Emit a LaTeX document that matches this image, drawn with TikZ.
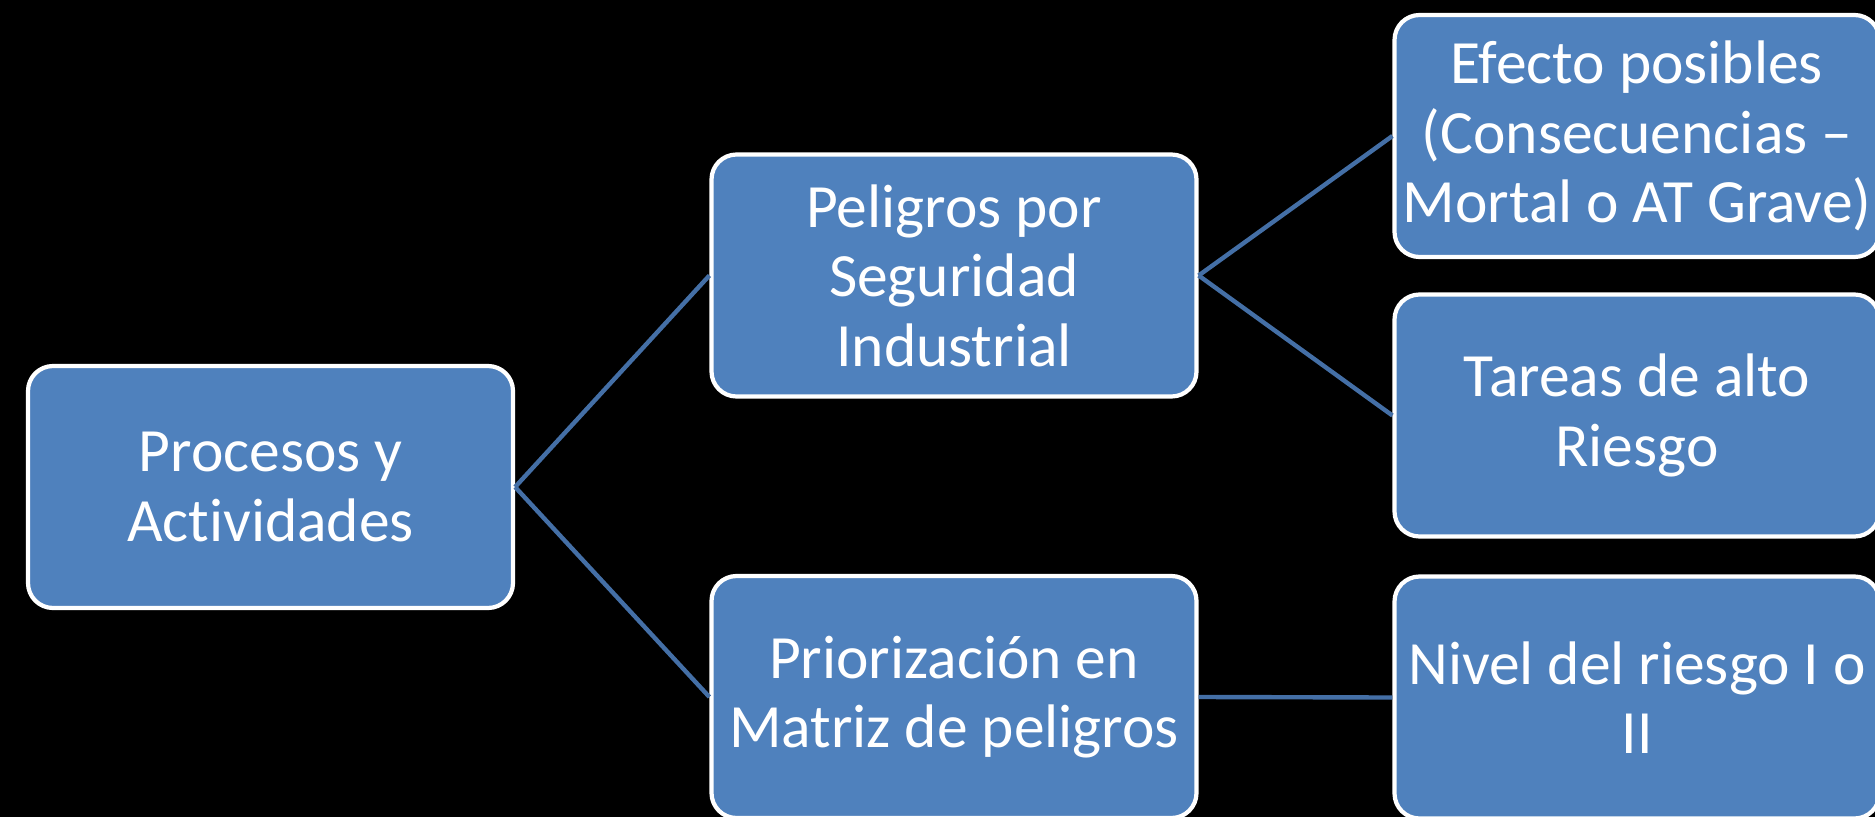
\documentclass[tikz,border=0pt]{standalone}
\usepackage{fontspec}
\setmainfont{Carlito}[Ligatures=NoCommon]
\usepackage{tikz}
\definecolor{officeblue}{RGB}{79, 129, 189}
\definecolor{linkblue}{RGB}{68, 111, 166}

\begin{document}
\begin{tikzpicture}[
        box/.style={draw=white, line width=2.4pt, fill=officeblue, rounded corners=0.5cm,
                    minimum width=9.7cm, minimum height=4.84cm, align=center,
                    text=white, font=\fontsize{35}{39.5}\selectfont, inner sep=0pt},
        link/.style={draw=linkblue, line width=2.5pt}
    ]
            % Background & frame
            \useasboundingbox (0, 0) rectangle (37.5, -16.34);
            \fill[black] (0, 0) rectangle (37.5, -16.34);
            % Level 1
            \node[box] (procesos) at ( 5.41, -9.74) {Procesos y\\Actividades};
            % Level 2
            \node[box] (peligros) at (19.08, -5.51) {Peligros por\\Seguridad\\Industrial};
            \node[box] (matriz)   at (19.08,-13.94) {Priorización en\\Matriz de peligros};
            % Level 3
            \node[box] (efecto)   at (32.74, -2.72) {Efecto posibles\\(Consecuencias --\\Mortal o AT Grave)};
            \node[box] (tareas)   at (32.74, -8.31) {Tareas de alto\\Riesgo};
            \node[box] (nivel)    at (32.74,-13.95) {Nivel del riesgo I o\\II};
            % Connectors
            \draw[link] (procesos.east) -- (peligros.west);
            \draw[link] (procesos.east) -- (matriz.west);
            \draw[link] (peligros.east) -- (efecto.west);
            \draw[link] (peligros.east) -- (tareas.west);
            \draw[link] (matriz.east)   -- (nivel.west);
        \end{tikzpicture}
\end{document}
